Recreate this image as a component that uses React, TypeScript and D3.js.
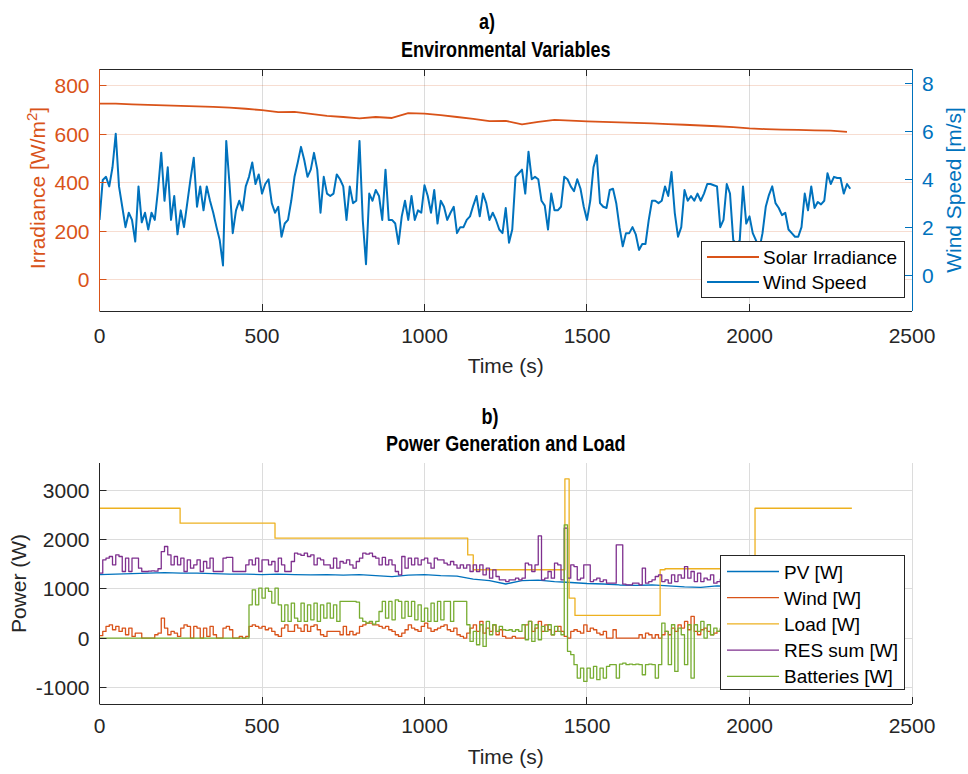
import { useEffect, useRef } from 'react';
import * as d3 from 'd3';

const FONT = '"Liberation Sans", Arial, Helvetica, sans-serif';
const AXIS_COLOR = '#262626';
const GRID_COLOR = '#dcdcdc';
const ORANGE = '#D95319';
const BLUE = '#0072BD';
const YELLOW = '#EDB120';
const PURPLE = '#7E2F8E';
const GREEN = '#77AC30';

// shared time axis
const TIME_TICKS = [0, 500, 1000, 1500, 2000, 2500];
const IRR_TICKS = [0, 200, 400, 600, 800];
const WIND_TICKS = [0, 2, 4, 6, 8];
const POWER_TICKS = [-1000, 0, 1000, 2000, 3000];

// a) solar irradiance [W/m2], one sample every 50 s
const SOLAR_DT = 50;
const SOLAR_IRRADIANCE = [
  727, 727, 724, 722, 720, 718, 716, 714, 711, 706,
  700, 692, 693, 685, 677, 672, 666, 672, 668, 688,
  686, 680, 672, 664, 655, 656, 642, 652, 660, 657,
  654, 652, 650, 648, 646, 643, 640, 637, 634, 630,
  625, 622, 620, 619, 617, 616, 611,
];

// a) wind speed [m/s], one sample every 10 s
const WIND_DT = 10;
const WIND_SPEED = [
  2.3, 3.97, 4.1, 3.7, 4.5, 5.9, 3.7, 2.85, 2.0, 2.6,
  2.3, 1.4, 3.7, 2.2, 2.6, 1.9, 2.6, 2.3, 3.55, 5.1,
  3.1, 4.5, 2.3, 3.3, 1.7, 2.7, 2.0, 3.0, 4.0, 4.9,
  2.85, 3.7, 2.7, 3.7, 3.1, 2.6, 2.0, 1.45, 0.4, 5.6,
  3.8, 1.75, 2.7, 3.1, 2.7, 3.7, 4.1, 4.7, 3.8, 4.2,
  3.4, 3.8, 4.0, 3.0, 2.6, 2.85, 1.6, 2.15, 2.3, 3.1,
  4.1, 4.7, 5.35, 4.8, 4.1, 4.4, 5.1, 4.4, 2.6, 4.1,
  3.4, 3.3, 3.4, 4.2, 4.0, 3.7, 2.3, 3.7, 3.0, 3.1,
  5.6, 2.3, 0.45, 3.4, 3.1, 3.55, 3.3, 2.3, 4.4, 2.3,
  2.3, 2.15, 1.3, 2.45, 3.1, 2.3, 3.3, 2.3, 2.7, 2.6,
  3.75, 3.3, 2.6, 3.55, 2.15, 3.1, 2.85, 2.3, 2.6, 2.85,
  1.75, 2.0, 2.0, 2.3, 2.45, 2.9, 3.3, 2.45, 3.4, 3.0,
  2.3, 2.6, 2.3, 1.9, 1.75, 2.8, 1.35, 1.9, 4.1, 4.25,
  4.4, 3.4, 5.15, 4.0, 4.1, 4.0, 3.1, 2.9, 1.9, 3.4,
  2.7, 2.7, 2.85, 4.1, 4.0, 3.7, 3.5, 4.0, 3.6, 2.85,
  2.3, 3.1, 4.5, 5.0, 3.0, 2.85, 2.8, 3.55, 3.6, 3.0,
  2.0, 1.2, 1.75, 1.75, 2.0, 1.7, 1.05, 1.3, 1.3, 2.3,
  3.1, 3.1, 3.0, 3.1, 3.7, 3.3, 4.3, 2.6, 1.6, 2.0,
  3.55, 3.1, 3.3, 3.1, 3.4, 3.1, 3.4, 3.8, 3.8, 3.75,
  3.7, 2.0, 2.3, 3.8, 3.4, 1.46, 1.3, 1.45, 3.7, 2.15,
  2.45, 1.75, 1.45, 1.05, 1.75, 2.85, 3.35, 3.7, 3.0, 2.8,
  2.5, 2.6, 1.9, 1.75, 1.6, 1.6, 2.0, 3.4, 2.7, 3.7,
  2.8, 3.05, 2.95, 3.1, 4.25, 3.8, 4.1, 4.05, 4.05, 3.4,
  3.8, 3.6,
];

// b) PV power [W], one sample every 50 s
const PV_DT = 50;
const PV_POWER = [
  1290, 1300, 1310, 1320, 1330, 1320, 1320, 1310, 1300, 1300,
  1290, 1300, 1290, 1285, 1290, 1280, 1290, 1270, 1250, 1280,
  1290, 1270, 1260, 1200, 1170, 1100, 1170, 1180, 1150, 1130,
  1110, 1100, 1080, 1070, 1080, 1060, 1040, 1030, 1060, 1050,
  1060, 1080, 1070, 1060, 1050, 1060, 1050,
];

// b) switched series [W], one sample every 10 s
const POWER_DT = 10;
const WIND_POWER = [
  50, 135, 237, 270, 170, 237, 135, 203, 68, 203,
  34, 100, 100, 0, 0, 0, 0, 68, 100, 406,
  203, 68, 135, 100, 34, 203, 270, 237, 0, 237,
  203, 0, 203, 34, 237, 68, 0, 0, 203, 237,
  170, 0, 0, 34, 0, 34, 237, 270, 237, 203,
  237, 170, 203, 135, 68, 34, 203, 270, 135, 135,
  270, 203, 135, 270, 135, 237, 270, 170, 68, 34,
  135, 135, 135, 135, 68, 237, 68, 135, 68, 100,
  237, 270, 305, 305, 270, 270, 237, 203, 237, 170,
  135, 68, 34, 100, 170, 270, 203, 170, 135, 237,
  305, 203, 135, 170, 203, 237, 270, 170, 135, 203,
  68, 34, 0, 100, 203, 270, 135, 338, 100, 203,
  135, 270, 68, 170, 34, 0, 0, 34, 0, 0,
  0, 270, 338, 135, 203, 338, 135, 270, 170, 68,
  135, 237, 135, 34, 0, 135, 170, 135, 100, 270,
  135, 203, 170, 100, 68, 135, 0, 0, 170, 0,
  0, 0, 0, 0, 0, 0, 68, 0, 100, 68,
  0, 68, 0, 68, 135, 68, 203, 135, 270, 203,
  338, 170, 440, 135, 68, 170, 203, 135, 68, 100,
  135, 170, 100, 203, 68, 135, 237, 100, 170, 68,
  135, 203, 100, 68, 170, 237, 135, 68, 203, 100,
  170, 68, 135, 237, 100, 203, 68, 135, 170, 100,
  203, 135, 68, 237, 170, 100, 135, 203, 68, 135,
  170, 100,
];
const RES_SUM = [
  1320, 1591, 1625, 1659, 1489, 1693, 1659, 1354, 1625, 1354,
  1625, 1625, 1422, 1354, 1354, 1360, 1365, 1360, 1410, 1760,
  1862, 1693, 1489, 1659, 1489, 1625, 1354, 1591, 1422, 1489,
  1591, 1354, 1557, 1422, 1625, 1354, 1354, 1354, 1625, 1640,
  1640, 1354, 1354, 1354, 1354, 1489, 1591, 1489, 1625, 1354,
  1591, 1591, 1489, 1557, 1354, 1625, 1489, 1354, 1354, 1557,
  1726, 1706, 1680, 1726, 1659, 1693, 1489, 1625, 1591, 1489,
  1489, 1422, 1625, 1422, 1557, 1523, 1591, 1489, 1422, 1557,
  1625, 1726, 1706, 1726, 1659, 1625, 1489, 1640, 1489, 1591,
  1489, 1354, 1286, 1659, 1422, 1625, 1489, 1625, 1489, 1591,
  1625, 1523, 1422, 1625, 1591, 1591, 1523, 1489, 1557, 1489,
  1422, 1489, 1422, 1489, 1354, 1489, 1354, 1489, 1286, 1422,
  1218, 1388, 1252, 1185, 1185, 1150, 1185, 1185, 1218, 1185,
  1218, 1523, 1489, 1354, 1489, 2078, 1185, 1218, 1354, 1218,
  1523, 1489, 1185, 2234, 1218, 1489, 1455, 1185, 1218, 1489,
  1489, 1150, 1185, 1218, 1150, 1185, 1117, 1117, 1117, 1896,
  1896, 1097, 1083, 1083, 1117, 1117, 1083, 1422, 1117, 1150,
  1185, 1252, 1286, 1150, 1185, 1117, 1286, 1150, 1286, 1218,
  1455, 1218, 1354, 1150, 1320, 1150, 1218, 1185, 1286, 1117,
  1150, 1200, 1250, 1150, 1300, 1180, 1220, 1150, 1280, 1160,
  1200, 1250, 1150, 1180, 1300, 1220, 1160, 1250, 1180, 1210,
  1150, 1260, 1200, 1170, 1280, 1190, 1230, 1160, 1220, 1180,
  1250, 1170, 1200, 1280, 1160, 1210, 1190, 1240, 1170, 1200,
  1180, 1220,
];
const BATTERIES = [
  0, 0, 0, 0, 0, 0, 0, 0, 0, 0,
  0, 0, 0, 0, 0, 0, 0, 0, 0, 0,
  0, 0, 0, 0, 0, 0, 0, 0, 0, 0,
  0, 0, 0, 0, 0, 0, 0, 0, 0, 0,
  0, 0, 0, 0, 0, 0, 677, 982, 677, 1015,
  812, 1015, 948, 711, 1015, 677, 338, 677, 338, 711,
  406, 338, 711, 338, 677, 372, 711, 338, 677, 406,
  711, 406, 677, 338, 745, 745, 745, 745, 745, 731,
  406, 338, 305, 338, 284, 338, 541, 745, 406, 745,
  372, 778, 745, 406, 745, 440, 745, 372, 677, 338,
  609, 338, 711, 338, 745, 372, 745, 745, 338, 745,
  745, 745, 745, 271, -68, 135, -135, 271, -169, 338,
  68, 271, 135, 237, 170, 156, 170, 135, 170, 135,
  271, -34, 338, -68, 271, -34, 237, 135, 271, 68,
  237, 135, 68, 2302, -270, -338, -541, -812, -609, -880,
  -609, -812, -575, -846, -609, -812, -575, -541, -541, -812,
  -528, -508, -541, -528, -541, -528, -541, -745, -541, -528,
  -541, -812, -541, 305, 135, -541, 271, -677, 203, 68,
  -541, 271, -812, 271, 135, 338, 0, 271, 68, 203,
  135, 200, 100, 250, 150, 300, 120, 220, 180, 100,
  250, 150, 280, 120, 200, 260, 100, 180, 240, 150,
  200, 120, 260, 180, 100, 240, 160, 220, 130, 250,
  180, 140, 260, 200, 120, 230, 170, 210, 150, 190,
  200, 180,
];

// b) load is a step profile: level holds from each time to the next
const LOAD_TIMES = [0, 248, 540, 1133, 1150, 1432, 1445, 1463, 1725, 1740, 2017, 2315];
const LOAD_POWER = [2640, 2336, 2031, 1692, 1390, 3236, 812, 460, 1390, 1410, 2640, 2640];

const crisp = (v: number) => Math.round(v - 0.5) + 0.5;
const sampled = (vals: number[], dt: number) => vals.map((v, i) => [i * dt, v] as [number, number]);

export default function App() {
  const svgRef = useRef<SVGSVGElement>(null);

  useEffect(() => {
    if (!svgRef.current) return;
    const W = 968;
    const H = 774;
    const svg = d3.select(svgRef.current);
    svg.selectAll('*').remove();
    svg.attr('width', W).attr('height', H).attr('viewBox', `0 0 ${W} ${H}`);
    svg.append('rect').attr('width', W).attr('height', H).attr('fill', '#fff');

    const text = (x: number, y: number, str: string, size: number, fill = AXIS_COLOR, anchor = 'middle', weight = 400) =>
      svg.append('text')
        .attr('x', x).attr('y', y)
        .attr('text-anchor', anchor)
        .attr('font-family', FONT)
        .attr('font-size', size)
        .attr('font-weight', weight)
        .attr('fill', fill)
        .text(str);

    // titles are set in a narrow bold face in the original
    const title = (x: number, y: number, str: string) =>
      svg.append('text')
        .attr('transform', `translate(${x},${y}) scale(0.82,1)`)
        .attr('text-anchor', 'middle')
        .attr('font-family', FONT)
        .attr('font-size', 22)
        .attr('font-weight', 700)
        .attr('fill', '#000')
        .text(str);

    const hline = (x1: number, x2: number, y: number, stroke: string, opacity = 1) =>
      svg.append('line').attr('x1', x1).attr('x2', x2).attr('y1', crisp(y)).attr('y2', crisp(y))
        .attr('stroke', stroke).attr('stroke-opacity', opacity).attr('stroke-width', 1);
    const vline = (x: number, y1: number, y2: number, stroke: string, opacity = 1) =>
      svg.append('line').attr('x1', crisp(x)).attr('x2', crisp(x)).attr('y1', y1).attr('y2', y2)
        .attr('stroke', stroke).attr('stroke-opacity', opacity).attr('stroke-width', 1);

    const TICK = 7;

    // ---------- a) Environmental Variables ----------
    const A = { left: 99.5, right: 912, top: 69, bottom: 311 };
    const xA = d3.scaleLinear().domain([0, 2500]).range([A.left, A.right]);
    const yIrr = d3.scaleLinear().domain([-128, 870]).range([A.bottom, A.top]);
    const yWind = d3.scaleLinear().domain([-1.5, 8.6]).range([A.bottom, A.top]);

    TIME_TICKS.slice(1, -1).forEach(t => vline(xA(t), A.top, A.bottom, GRID_COLOR));
    IRR_TICKS.forEach(v => hline(A.left, A.right, yIrr(v), ORANGE, 0.2));

    svg.append('clipPath').attr('id', 'clipA').append('rect')
      .attr('x', A.left).attr('y', A.top).attr('width', A.right - A.left).attr('height', A.bottom - A.top);

    const gA = svg.append('g').attr('clip-path', 'url(#clipA)');
    gA.append('path')
      .datum(sampled(SOLAR_IRRADIANCE, SOLAR_DT))
      .attr('d', d3.line<[number, number]>().x(d => xA(d[0])).y(d => yIrr(d[1])))
      .attr('fill', 'none').attr('stroke', ORANGE).attr('stroke-width', 1.8).attr('stroke-linejoin', 'round');
    gA.append('path')
      .datum(sampled(WIND_SPEED, WIND_DT))
      .attr('d', d3.line<[number, number]>().x(d => xA(d[0])).y(d => yWind(d[1])))
      .attr('fill', 'none').attr('stroke', BLUE).attr('stroke-width', 2).attr('stroke-linejoin', 'round');

    // box + axes
    hline(A.left, A.right, A.top, AXIS_COLOR);
    hline(A.left, A.right, A.bottom, AXIS_COLOR);
    vline(A.left, A.top, A.bottom, ORANGE);
    vline(A.right, A.top, A.bottom, BLUE);
    TIME_TICKS.slice(1, -1).forEach(t => {
      vline(xA(t), A.bottom - TICK, A.bottom, AXIS_COLOR);
      vline(xA(t), A.top, A.top + TICK, AXIS_COLOR);
    });
    TIME_TICKS.forEach(t => text(xA(t), A.bottom + 32, String(t), 21));
    IRR_TICKS.forEach(v => {
      hline(A.left, A.left + TICK, yIrr(v), ORANGE);
      text(A.left - 10, yIrr(v) + 7.5, String(v), 21, ORANGE, 'end');
    });
    WIND_TICKS.forEach(v => {
      hline(A.right - TICK, A.right, yWind(v), BLUE);
      text(A.right + 10, yWind(v) + 7.5, String(v), 21, BLUE, 'start');
    });
    text((A.left + A.right) / 2, 373, 'Time (s)', 21);

    const irrLabel = svg.append('text')
      .attr('transform', `translate(44.5,${(A.top + A.bottom) / 2 - 2}) rotate(-90)`)
      .attr('text-anchor', 'middle').attr('font-family', FONT).attr('font-size', 21).attr('fill', ORANGE);
    irrLabel.append('tspan').text('Irradiance [W/m');
    irrLabel.append('tspan').attr('dy', -8).attr('font-size', 15).text('2');
    irrLabel.append('tspan').attr('dy', 8).text(']');

    svg.append('text')
      .attr('transform', `translate(960.5,${(A.top + A.bottom) / 2}) rotate(-90)`)
      .attr('text-anchor', 'middle').attr('font-family', FONT).attr('font-size', 21).attr('fill', BLUE)
      .text('Wind Speed [m/s]');

    title(487, 28.5, 'a)');
    title((A.left + A.right) / 2, 57, 'Environmental Variables');

    // legend a)
    svg.append('rect').attr('x', 701.5).attr('y', 241.5).attr('width', 203).attr('height', 56)
      .attr('fill', '#fff').attr('stroke', AXIS_COLOR).attr('stroke-width', 1);
    [{ label: 'Solar Irradiance', color: ORANGE }, { label: 'Wind Speed', color: BLUE }].forEach((d, i) => {
      const y = 257 + i * 25;
      svg.append('line').attr('x1', 707).attr('x2', 759).attr('y1', y).attr('y2', y)
        .attr('stroke', d.color).attr('stroke-width', 1.8);
      text(763, y + 7, d.label, 19, '#000', 'start');
    });

    // ---------- b) Power Generation and Load ----------
    const B = { left: 99.5, right: 912, top: 463, bottom: 704 };
    const xB = d3.scaleLinear().domain([0, 2500]).range([B.left, B.right]);
    const yP = d3.scaleLinear().domain([-1340, 3560]).range([B.bottom, B.top]);

    TIME_TICKS.slice(1).forEach(t => vline(xB(t), B.top, B.bottom, GRID_COLOR));
    POWER_TICKS.forEach(v => hline(B.left, B.right, yP(v), GRID_COLOR));

    svg.append('clipPath').attr('id', 'clipB').append('rect')
      .attr('x', B.left).attr('y', B.top).attr('width', B.right - B.left).attr('height', B.bottom - B.top);
    const gB = svg.append('g').attr('clip-path', 'url(#clipB)');

    const smooth = d3.line<[number, number]>().x(d => xB(d[0])).y(d => yP(d[1]));
    const stepped = d3.line<[number, number]>().x(d => xB(d[0])).y(d => yP(d[1])).curve(d3.curveStepAfter);

    const series = [
      { label: 'PV [W]', color: BLUE, data: sampled(PV_POWER, PV_DT), gen: smooth },
      { label: 'Wind [W]', color: ORANGE, data: sampled(WIND_POWER, POWER_DT), gen: stepped },
      { label: 'Load [W]', color: YELLOW, data: LOAD_TIMES.map((t, i) => [t, LOAD_POWER[i]] as [number, number]), gen: stepped },
      { label: 'RES sum [W]', color: PURPLE, data: sampled(RES_SUM, POWER_DT), gen: stepped },
      { label: 'Batteries [W]', color: GREEN, data: sampled(BATTERIES, POWER_DT), gen: stepped },
    ];
    series.forEach(s => {
      gB.append('path').datum(s.data).attr('d', s.gen)
        .attr('fill', 'none').attr('stroke', s.color).attr('stroke-width', 1.3).attr('stroke-linejoin', 'round');
    });

    hline(B.left, B.right, B.bottom, AXIS_COLOR);
    vline(B.left, B.top, B.bottom, AXIS_COLOR);
    TIME_TICKS.slice(1).forEach(t => vline(xB(t), B.bottom - TICK, B.bottom, AXIS_COLOR));
    TIME_TICKS.forEach(t => text(xB(t), B.bottom + 29, String(t), 21));
    POWER_TICKS.forEach(v => {
      hline(B.left, B.left + TICK, yP(v), AXIS_COLOR);
      text(B.left - 10, yP(v) + 7.5, String(v), 21, AXIS_COLOR, 'end');
    });
    text((B.left + B.right) / 2, 764, 'Time (s)', 21);
    svg.append('text')
      .attr('transform', `translate(26,${(B.top + B.bottom) / 2}) rotate(-90)`)
      .attr('text-anchor', 'middle').attr('font-family', FONT).attr('font-size', 21).attr('fill', AXIS_COLOR)
      .text('Power (W)');

    title(490, 423.5, 'b)');
    title((B.left + B.right) / 2, 451, 'Power Generation and Load');

    // legend b)
    svg.append('rect').attr('x', 720.5).attr('y', 555.5).attr('width', 184).attr('height', 134)
      .attr('fill', '#fff').attr('stroke', AXIS_COLOR).attr('stroke-width', 1);
    series.forEach((s, i) => {
      const y = 571.5 + i * 26.2;
      svg.append('line').attr('x1', 727).attr('x2', 779).attr('y1', y).attr('y2', y)
        .attr('stroke', s.color).attr('stroke-width', 1.3);
      text(784, y + 7, s.label, 19, '#000', 'start');
    });
  }, []);

  return (
    <svg ref={svgRef} style={{ display: 'block', position: 'absolute', left: 0, top: 0 }} />
  );
}
